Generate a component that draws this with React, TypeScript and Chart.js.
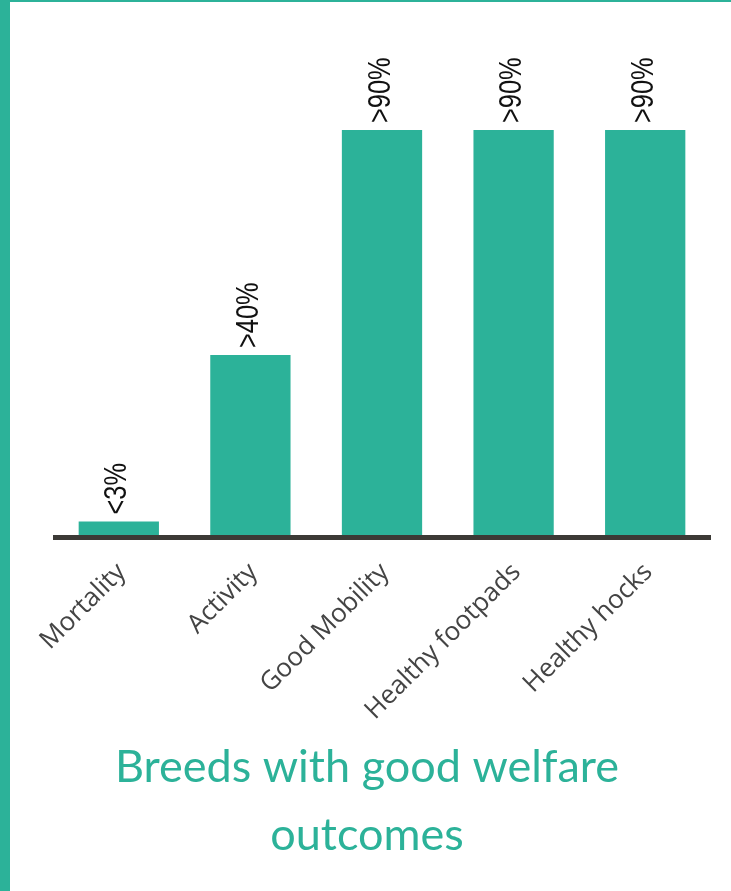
import React, { useEffect, useRef } from "react";
import { Chart, registerables } from "chart.js";

Chart.register(...registerables);

const categories = ["Mortality", "Activity", "Good Mobility", "Healthy footpads", "Healthy hocks"];
const values = [3, 40, 90, 90, 90];
const valueLabels = ["<3%", ">40%", ">90%", ">90%", ">90%"];
const titleLines = ["Breeds with good welfare", "outcomes"];

const TEAL = "#2cb299";

const valueLabelPlugin = {
  id: "valueLabels",
  afterDatasetsDraw(chart: any) {
    const { ctx } = chart;
    const meta = chart.getDatasetMeta(0);
    ctx.save();
    ctx.font = '31px "Liberation Sans", Arimo, sans-serif';
    ctx.fillStyle = "#111111";
    ctx.textAlign = "left";
    ctx.textBaseline = "middle";
    meta.data.forEach((bar: any, i: number) => {
      ctx.save();
      ctx.translate(bar.x - 1, bar.y - 7);
      ctx.rotate(-Math.PI / 2);
      ctx.scale(0.82, 1);
      ctx.fillText(valueLabels[i], 0, 0);
      ctx.restore();
    });
    ctx.restore();
  },
};

const baselinePlugin = {
  id: "baseline",
  afterDatasetsDraw(chart: any) {
    const { ctx, chartArea } = chart;
    ctx.save();
    ctx.fillStyle = "#3c3a36";
    ctx.fillRect(chartArea.left, chartArea.bottom, chartArea.right - chartArea.left, 5);
    ctx.restore();
  },
};

const bottomTitlePlugin = {
  id: "bottomTitle",
  afterDraw(chart: any) {
    const { ctx, width, height } = chart;
    ctx.save();
    ctx.font = "45px Lato, sans-serif";
    ctx.fillStyle = TEAL;
    ctx.textAlign = "center";
    ctx.textBaseline = "alphabetic";
    const cx = width / 2 - 3.5;
    ctx.fillText(titleLines[0], cx, height - 109);
    ctx.fillText(titleLines[1], cx, height - 41);
    ctx.restore();
  },
};

export default function App() {
  const canvasRef = useRef<HTMLCanvasElement | null>(null);

  useEffect(() => {
    document.body.style.margin = "0";
    const canvas = canvasRef.current;
    if (!canvas) return;
    const chart = new Chart(canvas, {
      type: "bar",
      data: {
        labels: categories,
        datasets: [
          {
            data: values,
            backgroundColor: TEAL,
            borderWidth: 0,
            barPercentage: 0.61,
            categoryPercentage: 1,
          },
        ],
      },
      options: {
        animation: false,
        responsive: false,
        maintainAspectRatio: false,
        layout: { padding: { left: 43, right: 20, top: 83, bottom: 166 } },
        plugins: {
          legend: { display: false },
          tooltip: { enabled: false },
          title: { display: false },
        },
        scales: {
          x: {
            grid: { display: false },
            border: { display: false },
            ticks: {
              color: "#444444",
              font: { family: "Open Sans", size: 26 },
              maxRotation: 45,
              minRotation: 45,
              padding: 14,
              labelOffset: 3,
            },
            afterFit: (scale: any) => {
              scale.height = 190;
            },
          },
          y: {
            display: false,
            min: 0,
            max: 100,
          },
        },
      },
      plugins: [valueLabelPlugin, baselinePlugin, bottomTitlePlugin],
    });
    return () => chart.destroy();
  }, []);

  return (
    <div
      style={{
        width: 731,
        height: 891,
        boxSizing: "border-box",
        borderLeft: `10px solid ${TEAL}`,
        borderTop: `2px solid ${TEAL}`,
        background: "#ffffff",
      }}
    >
      <canvas ref={canvasRef} width={721} height={889} style={{ display: "block", width: 721, height: 889 }} />
    </div>
  );
}
